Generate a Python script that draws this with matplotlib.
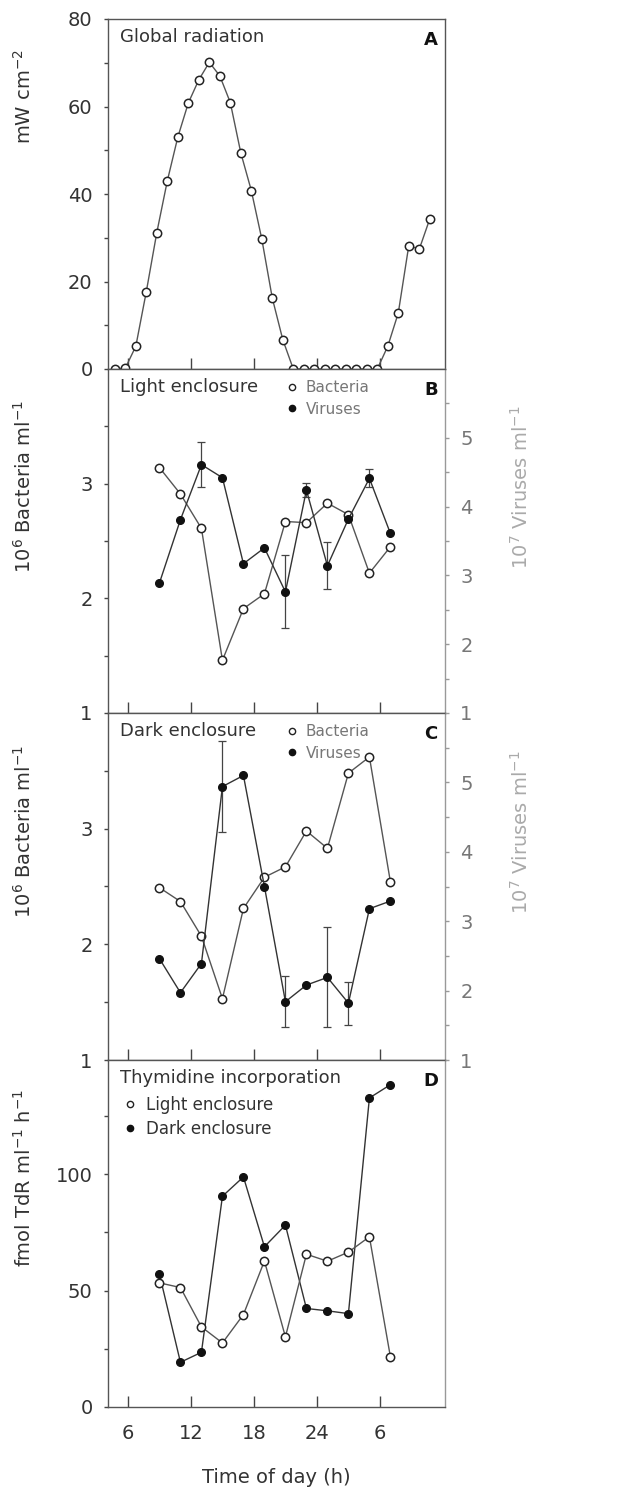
import numpy as np
import matplotlib.pyplot as plt
from matplotlib.lines import Line2D

# Panel A: global radiation (hourly)
rad_hours = [4.75, 5.75, 6.75, 7.75, 8.75, 9.75, 10.75, 11.75, 12.75, 13.75,
             14.75, 15.75, 16.75, 17.75, 18.75, 19.75, 20.75, 21.75, 22.75, 23.75,
             24.75, 25.75, 26.75, 27.75, 28.75, 29.75, 30.75, 31.75, 32.75, 33.75, 34.75]
radiation = [0, 0.2, 5.2, 17.7, 31.2, 43.0, 53.0, 60.8, 66.1, 70.1,
             67.0, 60.9, 49.4, 40.8, 29.7, 16.2, 6.7, 0, 0, 0,
             0, 0, 0, 0, 0, 0, 5.2, 12.8, 28.2, 27.4, 34.3]

# Sampling times for panels B-D
hours = [9, 11, 13, 15, 17, 19, 21, 23, 25, 27, 29, 31]

# Panel B: light enclosure
light_bact = [3.14, 2.91, 2.61, 1.46, 1.91, 2.04, 2.67, 2.66, 2.83, 2.73, 2.22, 2.45]
light_vir = [2.89, 3.81, 4.61, 4.42, 3.17, 3.40, 2.76, 4.24, 3.14, 3.82, 4.41, 3.61]
light_vir_err = [0, 0, 0.33, 0, 0, 0, 0.53, 0.10, 0.34, 0, 0.13, 0]

# Panel C: dark enclosure
dark_bact = [2.49, 2.37, 2.07, 1.53, 2.31, 2.58, 2.67, 2.98, 2.83, 3.48, 3.62, 2.54]
dark_vir = [2.46, 1.97, 2.39, 4.94, 5.10, 3.50, 1.84, 2.08, 2.19, 1.82, 3.18, 3.29]
dark_vir_err = [0, 0, 0, 0.66, 0, 0, 0.37, 0, 0.72, 0.31, 0, 0]

# Panel D: thymidine incorporation
tdr_light = [53.3, 51.3, 34.4, 27.5, 39.7, 62.7, 30.1, 65.6, 62.6, 66.5, 73.1, 21.5]
tdr_dark = [57.0, 19.2, 23.5, 90.5, 98.8, 68.8, 78.1, 42.3, 41.3, 40.1, 132.7, 138.4]

xticks = [6, 12, 18, 24, 30]
xticklabels = ['6', '12', '18', '24', '6']

plt.rcParams['font.family'] = ['DejaVu Sans']
TXT = '#333333'

W, H = 638, 1490
fig = plt.figure(figsize=(W / 100, H / 100), dpi=100)

# panel edges in pixels (top, bottom)
edges = [(19, 369), (369, 713), (713, 1060), (1060, 1407)]
x0, x1 = 108, 445
axes = []
for top, bot in edges:
    ax = fig.add_axes([x0 / W, 1 - bot / H, (x1 - x0) / W, (bot - top) / H])
    ax.set_xlim(4.1, 36.2)
    ax.set_xticks(xticks)
    ax.tick_params(axis='x', direction='in', length=8, width=1, colors='#444',
                   labelsize=14, labelcolor=TXT, pad=12)
    ax.tick_params(axis='y', which='both', direction='out', length=3, width=1,
                   colors='#444', labelsize=14, labelcolor=TXT, pad=8)
    for s in ax.spines.values():
        s.set_color('#555')
        s.set_linewidth(1)
    axes.append(ax)

for ax in axes[:3]:
    ax.set_xticklabels([])
axes[3].set_xticklabels(xticklabels)
axes[3].set_xlabel('Time of day (h)', fontsize=14, color=TXT, labelpad=18)

open_kw = dict(marker='o', mfc='white', mec='#222', ms=6, mew=1.1, lw=1, color='#555')
fill_kw = dict(marker='o', mfc='#111', mec='#111', ms=5.5, lw=1, color='#333')

def panel_text(ax, title, letter):
    ax.text(0.036, 0.948, title, transform=ax.transAxes, fontsize=13,
            color=TXT, va='center', ha='left')
    ax.text(0.958, 0.94, letter, transform=ax.transAxes, fontsize=13,
            fontweight='bold', color='#111', va='center', ha='center')

def marker_handles():
    return [Line2D([], [], ls='none', marker='o', mfc='white', mec='#222', ms=4.5, mew=1),
            Line2D([], [], ls='none', marker='o', mfc='#111', mec='#111', ms=4.5)]

# Panel A
ax = axes[0]
ax.plot(rad_hours, radiation, **open_kw)
ax.set_ylim(0, 80)
ax.set_yticks([0, 20, 40, 60, 80])
ax.set_yticks([10, 30, 50, 70], minor=True)
ax.set_ylabel('mW cm$^{-2}$', fontsize=14, color=TXT)
ax.yaxis.set_label_coords(-0.217, 0.78)
panel_text(ax, 'Global radiation', 'A')

# Panels B and C
def count_panel(ax, bact, vir, vir_err, title, letter):
    ax.plot(hours, bact, zorder=3, **open_kw)
    ax.set_ylim(1, 4)
    ax.set_yticks([1, 2, 3])
    ax.set_yticks([1.5, 2.5, 3.5], minor=True)
    ax.set_ylabel('10$^{6}$ Bacteria ml$^{-1}$', fontsize=14, color=TXT)
    ax.yaxis.set_label_coords(-0.217, 0.66)
    ax2 = ax.twinx()
    ax2.set_ylim(1, 6)
    ax2.set_yticks([1, 2, 3, 4, 5])
    ax2.set_yticks([1.5, 2.5, 3.5, 4.5, 5.5], minor=True)
    ax2.tick_params(axis='y', which='both', direction='out', length=3, width=1,
                    colors='#999', labelsize=14, labelcolor='#777', pad=8)
    for s in ax2.spines.values():
        s.set_visible(False)
    ax.spines['right'].set_color('#999')
    err = [e if e > 0 else np.nan for e in vir_err]
    ax2.errorbar(hours, vir, yerr=err, capsize=3, elinewidth=0.9, capthick=0.9,
                 ecolor='#444', zorder=2, **fill_kw)
    ax2.set_ylabel('10$^{7}$ Viruses ml$^{-1}$', fontsize=14, color='#aaaaaa')
    ax2.yaxis.set_label_coords(1.193, 0.655)
    panel_text(ax, title, letter)
    ax.legend(marker_handles(), ['Bacteria', 'Viruses'], loc='upper left',
              bbox_to_anchor=(0.50, 0.995), frameon=False, fontsize=11,
              labelcolor='#777', handlelength=0.8, handletextpad=0.5,
              labelspacing=0.45, borderaxespad=0.2)

count_panel(axes[1], light_bact, light_vir, light_vir_err, 'Light enclosure', 'B')
count_panel(axes[2], dark_bact, dark_vir, dark_vir_err, 'Dark enclosure', 'C')

# Panel D
ax = axes[3]
ax.plot(hours, tdr_light, zorder=3, **open_kw)
ax.plot(hours, tdr_dark, zorder=2, **fill_kw)
ax.set_ylim(0, 149)
ax.set_yticks([0, 50, 100])
ax.set_yticks([25, 75, 125], minor=True)
ax.set_ylabel('fmol TdR ml$^{-1}$ h$^{-1}$', fontsize=14, color=TXT)
ax.yaxis.set_label_coords(-0.217, 0.66)
ax.spines['right'].set_color('#999')
panel_text(ax, 'Thymidine incorporation', 'D')
ax.legend(marker_handles(), ['Light enclosure', 'Dark enclosure'], loc='upper left',
          bbox_to_anchor=(0.015, 0.925), frameon=False, fontsize=12,
          labelcolor=TXT, handlelength=0.8, handletextpad=0.6,
          labelspacing=0.35, borderaxespad=0.2)

fig.savefig('out.png', dpi=100, facecolor='white')
